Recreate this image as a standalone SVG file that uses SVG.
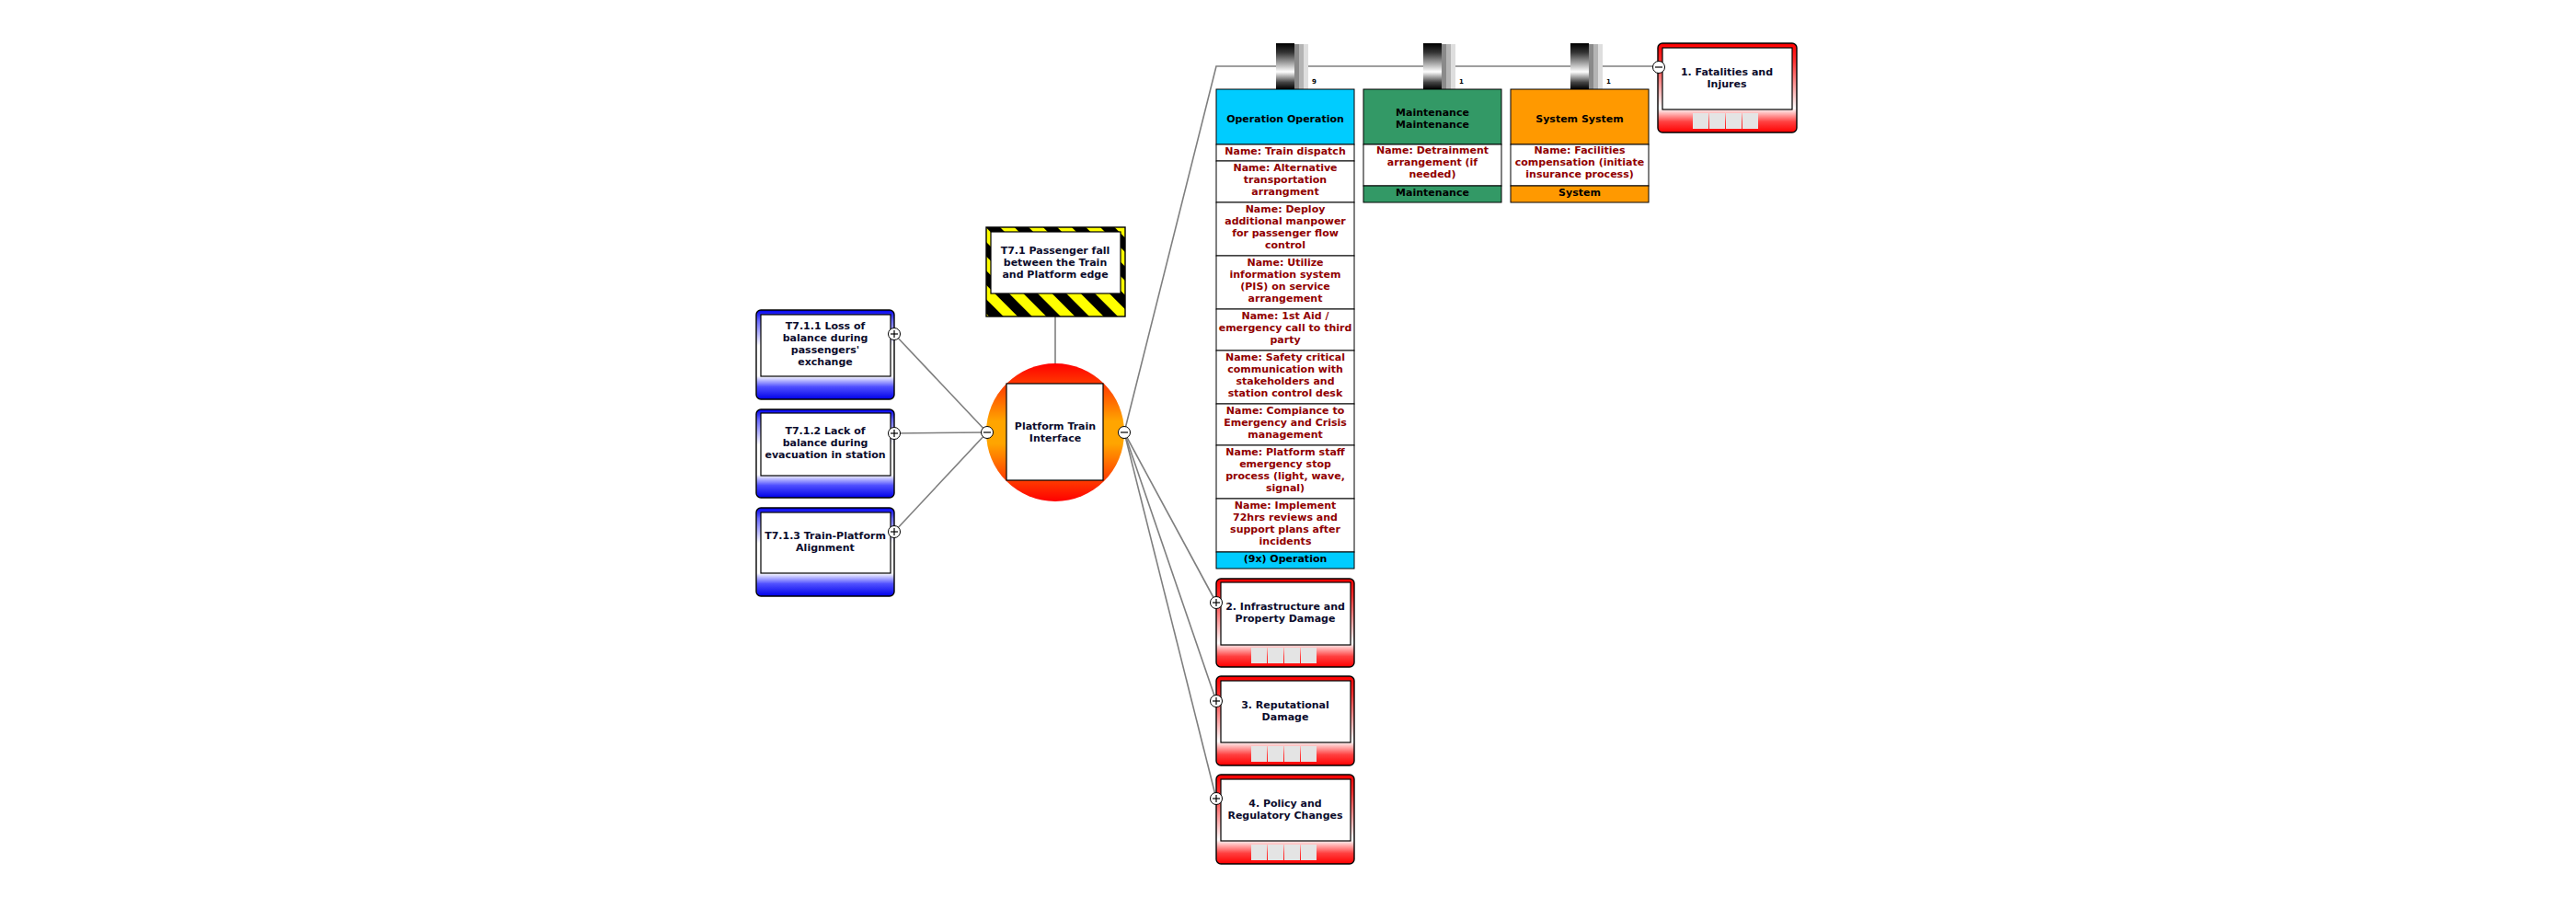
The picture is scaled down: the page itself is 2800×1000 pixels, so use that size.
<svg xmlns="http://www.w3.org/2000/svg" width="2800" height="1000" viewBox="0 0 2800 1000">
<style>
text{font-family:"DejaVu Sans","Verdana",sans-serif;font-weight:bold;font-size:11px;text-anchor:middle}
.t{fill:#0c0c2c}
.b{fill:#900000}
.k{fill:#000}
.cnt{font-size:7px;text-anchor:start;fill:#000}
.conn{fill:none;stroke:#7f7f7f;stroke-width:1.6}
.box{stroke:#000;stroke-width:1.4}
.inner{fill:#fff;stroke:#000;stroke-width:1.2}
.row{fill:#fff;stroke:#000;stroke-width:1}
.pm{fill:#fff;stroke:#000;stroke-width:1}
.pml{stroke:#000;stroke-width:1.2}
.cell{fill:#e4e4e4}
</style>
<defs>
<linearGradient id="gBlue" x1="0" y1="0" x2="0" y2="1">
<stop offset="0" stop-color="#0000f0"/>
<stop offset="0.12" stop-color="#6a6aff"/>
<stop offset="0.4" stop-color="#ffffff"/>
<stop offset="0.74" stop-color="#ffffff"/>
<stop offset="0.86" stop-color="#5050ff"/>
<stop offset="1" stop-color="#0000e8"/>
</linearGradient>
<linearGradient id="gRed" x1="0" y1="0" x2="0" y2="1">
<stop offset="0" stop-color="#ff0000"/>
<stop offset="0.2" stop-color="#ff3030"/>
<stop offset="0.73" stop-color="#ffffff"/>
<stop offset="0.88" stop-color="#ff4040"/>
<stop offset="1" stop-color="#ff0000"/>
</linearGradient>
<linearGradient id="gTop" x1="0" y1="0" x2="0" y2="1">
<stop offset="0" stop-color="#ff0000"/>
<stop offset="0.42" stop-color="#ffa500"/>
<stop offset="0.58" stop-color="#ffa500"/>
<stop offset="1" stop-color="#ff0000"/>
</linearGradient>
<linearGradient id="gCyl" x1="0" y1="0" x2="0" y2="1">
<stop offset="0" stop-color="#000"/>
<stop offset="0.2" stop-color="#333"/>
<stop offset="0.62" stop-color="#fff"/>
<stop offset="0.85" stop-color="#444"/>
<stop offset="1" stop-color="#000"/>
</linearGradient>
<pattern id="stripes" width="22" height="22" patternUnits="userSpaceOnUse" patternTransform="rotate(-45)">
<rect x="0" y="0" width="11" height="22" fill="#ffff00"/>
<rect x="11" y="0" width="11" height="22" fill="#000"/>
</pattern>
<g id="barrier">
<rect x="0" y="0" width="20" height="50" fill="url(#gCyl)"/>
<rect x="20" y="1" width="5" height="49" fill="#8a8a8a"/>
<rect x="25" y="1" width="5" height="49" fill="#b4b4b4"/>
<rect x="30" y="1" width="5" height="49" fill="#dedede"/>
</g>
<g id="cells">
<rect class="cell" x="0" y="0" width="17" height="17"/>
<rect class="cell" x="18" y="0" width="17" height="17"/>
<rect class="cell" x="36" y="0" width="17" height="17"/>
<rect class="cell" x="54" y="0" width="17" height="17"/>
</g>
<g id="plus"><circle class="pm" r="6.5"/><line class="pml" x1="-4" y1="0" x2="4" y2="0"/><line class="pml" x1="0" y1="-4" x2="0" y2="4"/></g>
<g id="minus"><circle class="pm" r="6.5"/><line class="pml" x1="-4" y1="0" x2="4" y2="0"/></g>
</defs>
<rect width="2800" height="1000" fill="#fff"/>

<g id="connectors">
<line class="conn" x1="972" y1="363" x2="1073" y2="470"/>
<line class="conn" x1="972" y1="471" x2="1073" y2="470"/>
<line class="conn" x1="972" y1="578" x2="1073" y2="470"/>
<line class="conn" x1="1147" y1="344" x2="1147" y2="395"/>
<polyline class="conn" points="1222,470 1322,72 1803,72"/>
<line class="conn" x1="1222" y1="470" x2="1322" y2="655"/>
<line class="conn" x1="1222" y1="470" x2="1322" y2="762"/>
<line class="conn" x1="1222" y1="470" x2="1322" y2="868"/>
</g>

<g id="hazard">
<rect class="box" x="1072" y="247" width="151" height="97" fill="url(#stripes)"/>
<rect class="inner" x="1077" y="252" width="141" height="67"/>
<text class="t" x="1147" y="276">T7.1 Passenger fall</text>
<text class="t" x="1147" y="289">between the Train</text>
<text class="t" x="1147" y="302">and Platform edge</text>
</g>

<g id="threat1">
<rect class="box" x="822" y="337" width="150" height="97" rx="5" fill="url(#gBlue)"/>
<rect class="inner" x="827" y="342" width="141" height="67"/>
<text class="t" x="897" y="358">T7.1.1 Loss of</text>
<text class="t" x="897" y="371">balance during</text>
<text class="t" x="897" y="384">passengers'</text>
<text class="t" x="897" y="397">exchange</text>
<use href="#plus" x="972" y="363"/>
</g>
<g id="threat2">
<rect class="box" x="822" y="445" width="150" height="96" rx="5" fill="url(#gBlue)"/>
<rect class="inner" x="827" y="449" width="141" height="68"/>
<text class="t" x="897" y="472">T7.1.2 Lack of</text>
<text class="t" x="897" y="485">balance during</text>
<text class="t" x="897" y="498">evacuation in station</text>
<use href="#plus" x="972" y="471"/>
</g>
<g id="threat3">
<rect class="box" x="822" y="552" width="150" height="96" rx="5" fill="url(#gBlue)"/>
<rect class="inner" x="827" y="557" width="141" height="66"/>
<text class="t" x="897" y="586">T7.1.3 Train-Platform</text>
<text class="t" x="897" y="599">Alignment</text>
<use href="#plus" x="972" y="578"/>
</g>

<g id="topevent">
<circle cx="1147" cy="470" r="75" fill="url(#gTop)"/>
<rect class="inner" x="1094" y="417" width="105" height="105"/>
<text class="t" x="1147" y="467">Platform Train</text>
<text class="t" x="1147" y="480">Interface</text>
<use href="#minus" x="1073" y="470"/>
<use href="#minus" x="1222" y="470"/>
</g>

<g id="barrier-operation">
<use href="#barrier" x="1387" y="47"/>
<text class="cnt" x="1426" y="91">9</text>
<rect class="row" x="1322" y="97" width="150" height="60" style="fill:#00ccff"/>
<text class="k" x="1397" y="133">Operation Operation</text>
<rect class="row" x="1322" y="157" width="150" height="18"/>
<text class="b" x="1397" y="168">Name: Train dispatch</text>
<rect class="row" x="1322" y="175" width="150" height="45"/>
<text class="b" x="1397" y="186">Name: Alternative</text>
<text class="b" x="1397" y="199">transportation</text>
<text class="b" x="1397" y="212">arrangment</text>
<rect class="row" x="1322" y="220" width="150" height="58"/>
<text class="b" x="1397" y="231">Name: Deploy</text>
<text class="b" x="1397" y="244">additional manpower</text>
<text class="b" x="1397" y="257">for passenger flow</text>
<text class="b" x="1397" y="270">control</text>
<rect class="row" x="1322" y="278" width="150" height="58"/>
<text class="b" x="1397" y="289">Name: Utilize</text>
<text class="b" x="1397" y="302">information system</text>
<text class="b" x="1397" y="315">(PIS) on service</text>
<text class="b" x="1397" y="328">arrangement</text>
<rect class="row" x="1322" y="336" width="150" height="45"/>
<text class="b" x="1397" y="347">Name: 1st Aid /</text>
<text class="b" x="1397" y="360">emergency call to third</text>
<text class="b" x="1397" y="373">party</text>
<rect class="row" x="1322" y="381" width="150" height="58"/>
<text class="b" x="1397" y="392">Name: Safety critical</text>
<text class="b" x="1397" y="405">communication with</text>
<text class="b" x="1397" y="418">stakeholders and</text>
<text class="b" x="1397" y="431">station control desk</text>
<rect class="row" x="1322" y="439" width="150" height="45"/>
<text class="b" x="1397" y="450">Name: Compiance to</text>
<text class="b" x="1397" y="463">Emergency and Crisis</text>
<text class="b" x="1397" y="476">management</text>
<rect class="row" x="1322" y="484" width="150" height="58"/>
<text class="b" x="1397" y="495">Name: Platform staff</text>
<text class="b" x="1397" y="508">emergency stop</text>
<text class="b" x="1397" y="521">process (light, wave,</text>
<text class="b" x="1397" y="534">signal)</text>
<rect class="row" x="1322" y="542" width="150" height="58"/>
<text class="b" x="1397" y="553">Name: Implement</text>
<text class="b" x="1397" y="566">72hrs reviews and</text>
<text class="b" x="1397" y="579">support plans after</text>
<text class="b" x="1397" y="592">incidents</text>
<rect class="row" x="1322" y="600" width="150" height="18" style="fill:#00ccff"/>
<text class="k" x="1397" y="611">(9x) Operation</text>
</g>

<g id="barrier-maintenance">
<use href="#barrier" x="1547" y="47"/>
<text class="cnt" x="1586" y="91">1</text>
<rect class="row" x="1482" y="97" width="150" height="60" style="fill:#339966"/>
<text class="k" x="1557" y="126">Maintenance</text>
<text class="k" x="1557" y="139">Maintenance</text>
<rect class="row" x="1482" y="157" width="150" height="45"/>
<text class="b" x="1557" y="167">Name: Detrainment</text>
<text class="b" x="1557" y="180">arrangement (if</text>
<text class="b" x="1557" y="193">needed)</text>
<rect class="row" x="1482" y="202" width="150" height="18" style="fill:#339966"/>
<text class="k" x="1557" y="213">Maintenance</text>
</g>

<g id="barrier-system">
<use href="#barrier" x="1707" y="47"/>
<text class="cnt" x="1746" y="91">1</text>
<rect class="row" x="1642" y="97" width="150" height="60" style="fill:#ff9900"/>
<text class="k" x="1717" y="133">System System</text>
<rect class="row" x="1642" y="157" width="150" height="45"/>
<text class="b" x="1717" y="167">Name: Facilities</text>
<text class="b" x="1717" y="180">compensation (initiate</text>
<text class="b" x="1717" y="193">insurance process)</text>
<rect class="row" x="1642" y="202" width="150" height="18" style="fill:#ff9900"/>
<text class="k" x="1717" y="213">System</text>
</g>

<g id="consequence1">
<rect class="box" x="1802" y="47" width="151" height="97" rx="5" fill="url(#gRed)"/>
<rect class="inner" x="1807" y="52" width="141" height="67"/>
<text class="t" x="1877" y="82">1. Fatalities and</text>
<text class="t" x="1877" y="95">Injures</text>
<use href="#cells" x="1840" y="123"/>
<use href="#minus" x="1803" y="73"/>
</g>
<g id="consequence2">
<rect class="box" x="1322" y="629" width="150" height="96" rx="5" fill="url(#gRed)"/>
<rect class="inner" x="1327" y="633" width="141" height="68"/>
<text class="t" x="1397" y="663">2. Infrastructure and</text>
<text class="t" x="1397" y="676">Property Damage</text>
<use href="#cells" x="1360" y="704"/>
<use href="#plus" x="1322" y="655"/>
</g>
<g id="consequence3">
<rect class="box" x="1322" y="735" width="150" height="97" rx="5" fill="url(#gRed)"/>
<rect class="inner" x="1327" y="740" width="141" height="67"/>
<text class="t" x="1397" y="770">3. Reputational</text>
<text class="t" x="1397" y="783">Damage</text>
<use href="#cells" x="1360" y="811"/>
<use href="#plus" x="1322" y="762"/>
</g>
<g id="consequence4">
<rect class="box" x="1322" y="842" width="150" height="97" rx="5" fill="url(#gRed)"/>
<rect class="inner" x="1327" y="847" width="141" height="67"/>
<text class="t" x="1397" y="877">4. Policy and</text>
<text class="t" x="1397" y="890">Regulatory Changes</text>
<use href="#cells" x="1360" y="918"/>
<use href="#plus" x="1322" y="868"/>
</g>
</svg>
